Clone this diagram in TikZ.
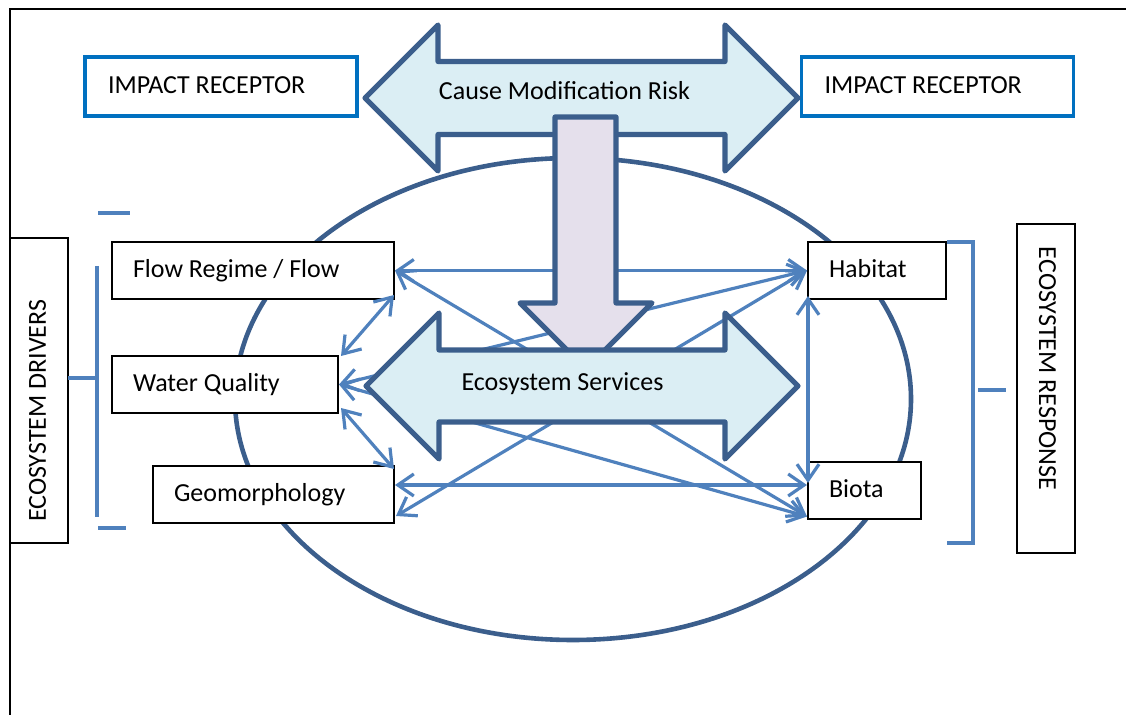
\documentclass[tikz,border=0pt]{standalone}
\usepackage{fontspec}
\setmainfont{Carlito}
\usetikzlibrary{arrows.meta,calc}
\definecolor{linkblue}{HTML}{4F81BD}
\definecolor{shapeblue}{HTML}{3B5E8C}
\definecolor{paleblue}{HTML}{DBEEF4}
\definecolor{lavender}{HTML}{E5E0EC}
\definecolor{receptorblue}{HTML}{0070C0}

\begin{document}
\begin{tikzpicture}[x=0.5pt,y=-0.5pt,>={Straight Barb[length=8pt,width=11pt]},
  font=\fontsize{13}{15}\selectfont,
  factor/.style={draw=black,fill=white,line width=1pt,minimum height=28.5pt,
    inner xsep=10.5pt,text width=#1,align=flush left,text height=9.5pt,text depth=2.5pt},
  receptor/.style={factor=113pt,draw=receptorblue,line width=1.7pt,
    minimum height=29.5pt,inner xsep=11.5pt},
  link/.style={<->,draw=linkblue,line width=1.6pt},
  brace/.style={draw=linkblue,line width=1.7pt},
  bigarrow/.style={draw=shapeblue,line width=2.6pt,line join=round}]
\useasboundingbox (0,0) rectangle (1126,715);
% frame and ellipse
\draw[line width=1pt] (10,715) -- (10,9) -- (1126,9);
\draw[shapeblue,line width=2.3pt] (573,399) ellipse [x radius=338,y radius=241];

% boxes
\node[receptor] (recL) at (221,86.5) {IMPACT RECEPTOR};
\node[receptor] (recR) at (937.5,86.5) {IMPACT RECEPTOR};
\node[factor=120pt] (flow) at (253,270.5) {Flow Regime / Flow};
\node[factor=92pt] (wq) at (225,384.5) {Water Quality};
\node[factor=99.5pt] (geo) at (273.5,494.5) {Geomorphology};
\node[factor=48pt] (hab) at (877,270.5) {Habitat};
\node[factor=35.5pt] (bio) at (864.5,491) {Biota};
\node[factor=131.5pt,rotate=90,minimum height=29pt] (drivers) at (39,390.5) {ECOSYSTEM DRIVERS};
\node[factor=141.5pt,rotate=-90,minimum height=29pt,inner xsep=11.5pt] (response) at (1046,388.5) {ECOSYSTEM RESPONSE};

% brackets
\draw[brace] (68,378) -- (97,378);
\draw[brace] (97,266) -- (97,517);
\draw[brace] (98,213) -- (130,213);
\draw[brace] (98,528) -- (126,528);
\draw[brace] (947,242) -- (973,242) -- (973,543) -- (947,543);
\draw[brace] (978,390) -- (1006,390);

% links
\draw[link] (flow.east) -- (hab.west);
\draw[link] (flow.east) -- ($(bio.south west)+(0,-4)$);
\draw[link] (wq.east) -- (hab.west);
\draw[link] (wq.east) -- ($(bio.south west)+(0,-4)$);
\draw[link] ($(geo.south east)+(1,-8)$) -- (hab.west);
\draw[link] ($(geo.east)+(0,-9.5)$) -- ($(bio.west)+(0,-6)$);
\draw[link] ($(hab.south west)+(1,-4)$) -- ($(bio.west)+(1,-8)$);
\draw[link] ($(flow.south east)+(-1,-5)$) -- ($(wq.north east)+(2,1)$);
\draw[link] ($(wq.south east)+(2,-6)$) -- ($(geo.north east)+(-1,4)$);

% big arrows
\draw[bigarrow,fill=paleblue] (365,98) -- (438,25) -- (438,61.5) -- (725,61.5) -- (725,25) -- (798,98)
  -- (725,171) -- (725,134.5) -- (438,134.5) -- (438,171) -- cycle;
\node[anchor=base] (cause) at (564.5,100) {Cause Modification Risk};
\draw[bigarrow,fill=lavender] (555,117) -- (616,117) -- (616,303) -- (652,303) -- (586,369)
  -- (520,303) -- (555,303) -- cycle;
\draw[bigarrow,fill=paleblue] (366,386) -- (439,313) -- (439,350) -- (725,350) -- (725,313) -- (798,386)
  -- (725,459) -- (725,422) -- (439,422) -- (439,459) -- cycle;
\node[anchor=base] (services) at (562.5,391) {Ecosystem Services};
\end{tikzpicture}
\end{document}
